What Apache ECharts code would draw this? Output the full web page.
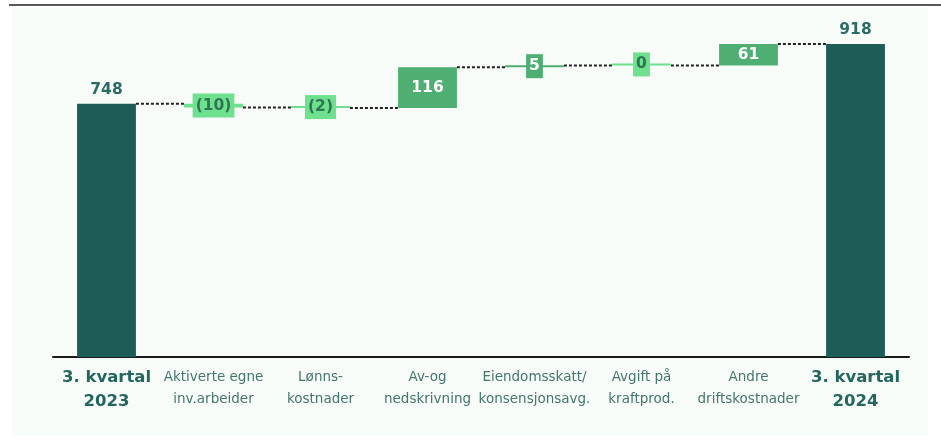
<!DOCTYPE html>
<html>
<head>
<meta charset="utf-8">
<script src="https://cdn.jsdelivr.net/npm/echarts@6/dist/echarts.min.js"></script>
<style>
    html, body { margin: 0; padding: 0; background: #ffffff; }
    #wrap { position: relative; width: 941px; height: 443px; }
    #topline { position: absolute; left: 9px; top: 4px; width: 932px; height: 2px; background: #595959; }
    #panel { position: absolute; left: 12px; top: 7px; width: 916px; height: 429px; background: #f7fcf8; }
    #main { position: absolute; left: 0; top: 0; width: 941px; height: 443px; }
</style>
</head>
<body>
<div id="wrap">
    <div id="topline"></div>
    <div id="panel"></div>
    <div id="main"></div>
</div>
<script>
// kategorier og verdier (mill. kr)
var categories = ['3. kvartal\n2023', 'Aktiverte egne\ninv.arbeider', 'Lønns-\nkostnader', 'Av-og\nnedskrivning',
    'Eiendomsskatt/\nkonsensjonsavg.', 'Avgift på\nkraftprod.', 'Andre\ndriftskostnader', '3. kvartal\n2024'];
var changes = [748, -10, -2, 116, 5, 0, 61, 918];
var isTotal = [true, false, false, false, false, false, false, true];

var colTotal = '#1d5c57',
    colUp = '#4fae72',
    colDown = '#6fe08e';

// bygg usynlig base + synlig del
var baseData = [], barData = [], levels = [];
var running = 0;
changes.forEach(function(v, i) {
    if (isTotal[i]) {
        running = v;
        baseData.push(0);
        barData.push(v);
    } else {
        var next = running + v;
        baseData.push(Math.min(running, next));
        barData.push(Math.abs(v));
        running = next;
    }
    levels.push(running);
});

var chart = echarts.init(document.getElementById('main'));

function labelFor(i) {
    var v = changes[i];
    if (isTotal[i]) {
        return {
            show: true, position: 'top', distance: 6,
            color: '#2a6b63', fontSize: 15.5, fontWeight: 'bold', fontFamily: 'DejaVu Sans'
        };
    }
    if (Math.abs(v) > 30) {
        return {
            show: true, position: 'inside',
            color: '#ffffff', fontSize: 15.5, fontWeight: 'bold', fontFamily: 'DejaVu Sans'
        };
    }
    return {
        show: true, position: 'inside',
        color: v > 0 ? '#ffffff' : '#2f7552',
        backgroundColor: v > 0 ? colUp : colDown,
        padding: [3, 3, 2, 3],
        fontSize: 15.5, fontWeight: 'bold', fontFamily: 'DejaVu Sans', lineHeight: 19
    };
}

var option = {
    animation: false,
    grid: { left: 53, right: 32, top: 15, bottom: 86 },
    xAxis: {
        type: 'category',
        data: categories,
        axisTick: { show: false },
        axisLine: { lineStyle: { color: '#1a1a1a', width: 2 } },
        axisLabel: {
            interval: 0,
            margin: 9,
            formatter: function(val, idx) {
                var key = isTotal[idx] ? 't' : 's';
                return val.split('\n').map(function(s) { return '{' + key + '|' + s + '}'; }).join('\n');
            },
            rich: {
                t: { fontSize: 16.5, fontWeight: 'bold', color: '#24665e', lineHeight: 24, fontFamily: 'DejaVu Sans' },
                s: { fontSize: 13.5, color: '#45766d', lineHeight: 22, fontFamily: 'DejaVu Sans' }
            }
        }
    },
    yAxis: { type: 'value', min: 30, max: 1000, show: false, splitLine: { show: false } },
    series: [{
        type: 'bar',
        stack: 'w',
        barWidth: '55%',
        itemStyle: { color: 'transparent' },
        silent: true,
        data: baseData
    }, {
        type: 'bar',
        stack: 'w',
        barWidth: '55%',
        barMinHeight: 2,
        data: barData.map(function(v, i) {
            var c = isTotal[i] ? colTotal : (changes[i] > 0 ? colUp : colDown);
            return {
                value: v,
                itemStyle: { color: c },
                label: labelFor(i)
            };
        }),
        label: {
            formatter: function(p) {
                var v = changes[p.dataIndex];
                return v < 0 ? '(' + Math.abs(v) + ')' : String(v);
            }
        },
        z: 3
    }, {
        // stiplede forbindelseslinjer
        type: 'custom',
        z: 2,
        data: levels.slice(0, levels.length - 1).map(function(l, i) { return [i, l]; }),
        renderItem: function(params, api) {
            var i = api.value(0), l = api.value(1);
            var p1 = api.coord([i, l]);
            var p2 = api.coord([i + 1, l]);
            var bw = api.size([1, 0])[0] * 0.55;
            return {
                type: 'line',
                shape: { x1: p1[0] + bw / 2, y1: p1[1], x2: p2[0] - bw / 2, y2: p2[1] },
                style: { stroke: '#222222', lineWidth: 2, lineDash: [3, 2] }
            };
        }
    }]
};

chart.setOption(option);
</script>
</body>
</html>
